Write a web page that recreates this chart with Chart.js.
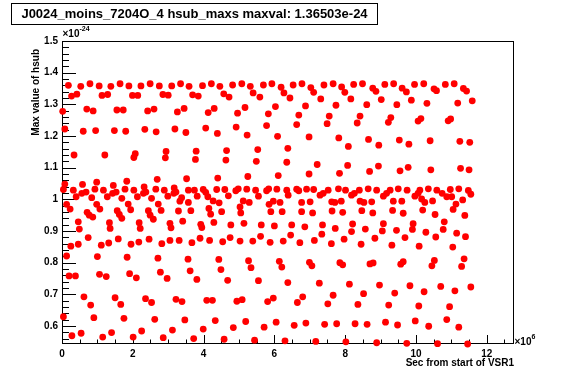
<!DOCTYPE html>
<html>
<head>
<meta charset="utf-8">
<script src="https://cdn.jsdelivr.net/npm/chart.js@4.4.0/dist/chart.umd.min.js"></script>
<style>
  html, body { margin: 0; padding: 0; background: #fff; }
</style>
</head>
<body>
<canvas id="c" width="563" height="387"></canvas>
<script>
// time in units of 1e6 s, hsub max in units of 1e-24

// 0 - 3.6 (x1e6), upper half
const timeA = [0.18,0.27,0.42,0.53,0.79,1.05,1.13,1.29,1.38,1.64,1.89,1.99,2.14,2.23,2.49,2.75,2.85,3.00,3.10,3.35,3.59,
  0.02,0.70,0.88,1.55,1.73,2.42,2.60,3.26,3.45,
  0.08,0.60,0.95,1.48,1.80,2.34,2.66,3.19,3.50,
  0.34,1.21,2.07,2.03,2.94,2.92,
  0.08,0.04,0.32,0.40,0.58,0.56,0.68,0.84,0.93,0.98,1.17,1.28,1.45,1.43,1.53,1.69,1.78,1.83,2.03,2.13,2.32,2.30,2.37,2.53,2.65,2.69,2.89,2.99,3.17,3.16,3.22,3.38,3.52,3.57];
const hsubA = [1.360,1.326,1.332,1.357,1.365,1.358,1.328,1.331,1.357,1.365,1.358,1.328,1.328,1.358,1.365,1.358,1.331,1.329,1.358,1.365,1.357,
  1.278,1.285,1.279,1.282,1.282,1.279,1.285,1.276,1.287,
  1.222,1.215,1.217,1.217,1.215,1.221,1.213,1.222,1.211,
  1.140,1.140,1.144,1.132,1.151,1.131,
  1.048,1.031,1.029,1.008,1.047,1.019,1.023,1.005,1.032,1.054,1.029,1.008,1.044,1.019,1.023,1.003,1.032,1.057,1.029,1.008,1.039,1.019,1.023,1.003,1.032,1.063,1.029,1.010,1.036,1.019,1.023,1.005,1.065,1.029];

// 0 - 3.3, lower half
const timeB = [0.13,0.23,0.98,1.07,1.87,1.94,2.72,2.80,3.29,
  0.71,0.77,0.87,1.56,1.62,1.69,2.44,2.49,2.58,
  0.46,0.49,1.34,1.36,2.18,2.21,3.05,3.08,
  0.74,1.59,2.46,3.31,
  0.25,0.46,1.11,1.32,1.95,2.17,2.82,3.05,
  0.13,1.00,1.84,2.71,
  0.20,0.38,1.06,1.25,1.91,2.10,2.78,2.97,
  0.62,0.81,1.50,1.66,2.36,2.53,3.22,
  0.04,0.90,1.75,2.62,
  0.28,0.54,1.15,1.40,2.01,2.25,2.86,3.12];
const hsubB = [0.984,0.969,0.984,0.969,0.985,0.967,0.985,0.965,0.963,
  0.959,0.950,0.944,0.964,0.952,0.940,0.964,0.950,0.937,
  0.929,0.906,0.926,0.908,0.926,0.908,0.924,0.910,
  0.879,0.875,0.874,0.870,
  0.852,0.858,0.855,0.862,0.858,0.865,0.860,0.870,
  0.821,0.819,0.817,0.814,
  0.758,0.758,0.763,0.756,0.765,0.752,0.770,0.750,
  0.692,0.666,0.689,0.668,0.686,0.674,0.684,
  0.629,0.626,0.624,0.621,
  0.569,0.577,0.565,0.579,0.565,0.584,0.563,0.587];

// 3.6 - 7.1, upper half
const timeC = [3.69,3.85,3.97,4.22,4.46,4.57,4.72,4.82,5.08,5.32,5.40,5.59,5.69,5.93,6.19,6.27,6.44,6.53,6.78,7.03,7.11,
  4.13,4.30,4.96,5.17,5.83,6.03,6.69,6.88,
  4.06,4.39,4.92,5.23,5.78,6.09,6.63,6.98,
  3.79,3.77,4.65,4.63,5.53,5.49,6.38,6.35,
  4.40,5.25,6.11,6.98,
  3.74,3.82,3.99,4.06,4.12,4.37,4.60,4.70,4.91,4.98,5.22,5.47,5.55,5.78,5.84,6.07,6.35,6.39,6.63,6.69,6.91];
const hsubC = [1.330,1.326,1.359,1.365,1.357,1.333,1.323,1.361,1.365,1.357,1.336,1.323,1.361,1.365,1.354,1.336,1.320,1.361,1.365,1.353,1.338,
  1.274,1.287,1.272,1.290,1.270,1.293,1.266,1.295,
  1.225,1.208,1.228,1.203,1.233,1.199,1.236,1.197,
  1.152,1.126,1.154,1.124,1.157,1.120,1.161,1.117,
  1.067,1.072,1.075,1.080,
  1.029,1.010,1.031,1.022,1.008,1.031,1.031,1.011,1.027,1.033,1.032,1.029,1.010,1.027,1.033,1.032,1.029,1.013,1.032,1.027,1.032];

// 3.3 - 6.7, lower half
const timeD = [3.33,3.57,4.27,4.44,5.12,5.29,5.97,6.16,5.85,
  3.64,4.15,4.20,4.51,5.03,5.05,5.90,6.22,
  3.41,3.92,3.95,4.29,4.77,5.14,5.63,6.00,6.49,
  3.67,3.90,4.17,4.54,4.75,5.03,5.39,5.61,5.88,6.25,6.46,6.72,
  3.56,3.62,3.81,4.43,4.49,4.68,5.27,5.34,5.55,6.14,6.21,6.38,
  3.39,4.09,4.25,4.94,5.09,5.81,5.97,6.65,
  3.47,4.33,5.19,6.05,
  3.99,4.84,5.71,6.56,
  3.72,4.58,5.44,6.30];
const hsubD = [0.994,0.990,0.995,0.989,0.995,0.990,0.994,0.990,0.984,
  0.964,0.971,0.953,0.961,0.976,0.957,0.961,0.961,
  0.931,0.921,0.911,0.927,0.919,0.924,0.919,0.916,0.919,
  0.863,0.877,0.870,0.866,0.879,0.868,0.868,0.883,0.864,0.868,0.887,0.863,
  0.811,0.774,0.747,0.810,0.778,0.744,0.806,0.784,0.743,0.804,0.786,0.737,
  0.677,0.681,0.681,0.678,0.683,0.677,0.688,0.674,
  0.619,0.617,0.614,0.612,
  0.590,0.595,0.596,0.602,
  0.560,0.558,0.555,0.553];

// 7.1 - 10.6, upper half
const timeE = [7.31,7.40,7.66,7.90,7.99,8.16,8.24,8.49,8.78,8.87,9.02,9.12,9.37,9.61,9.73,9.87,9.96,10.22,10.51,10.58,
  7.74,8.61,9.46,10.31,
  7.55,7.49,8.42,8.34,9.29,9.22,10.14,10.06,
  7.82,8.09,8.66,8.95,9.53,9.80,10.40,
  7.21,7.84,8.07,8.69,8.94,9.55,9.78,10.42,
  7.11,7.29,7.38,7.52,7.81,8.01,8.18,8.26,8.40,8.65,8.89,9.08,9.17,9.27,9.50,9.75,9.97,10.06,10.11,10.35,10.59];
const hsubE = [1.317,1.361,1.365,1.355,1.338,1.317,1.363,1.365,1.351,1.341,1.315,1.363,1.365,1.351,1.339,1.313,1.363,1.365,1.349,1.343,
  1.297,1.299,1.299,1.303,
  1.263,1.239,1.263,1.241,1.258,1.243,1.255,1.247,
  1.194,1.167,1.189,1.171,1.187,1.174,1.185,
  1.110,1.082,1.107,1.088,1.105,1.090,1.101,1.093,
  1.031,1.013,1.019,1.029,1.033,1.029,1.013,1.019,1.029,1.033,1.029,1.010,1.019,1.029,1.033,1.029,1.010,1.019,1.029,1.033,1.029];

// 10.7 - 11.6, upper half
const timeF = [10.83,11.08,11.34,11.43,11.18,11.59,10.91,10.98,11.24,11.52,11.26,11.50,10.74,10.87,10.97,11.01,11.21,11.32,11.48,11.55];
const hsubF = [1.363,1.365,1.350,1.342,1.304,1.311,1.248,1.254,1.183,1.180,1.098,1.093,1.019,1.008,1.031,1.008,1.033,0.998,1.028,1.016];

// 6.7 - 10.1, lower half
const timeG = [7.62,7.71,7.89,8.42,8.53,8.75,9.36,9.60,7.01,6.77,
  6.77,7.08,7.63,7.93,8.47,8.78,9.34,9.64,
  6.86,7.36,7.34,7.72,8.21,8.18,8.57,9.08,9.05,9.45,9.92,9.90,
  7.13,7.61,7.97,8.45,8.84,9.32,9.69,10.09,
  6.99,7.06,7.85,7.93,8.70,8.79,9.57,9.64,
  7.27,8.12,8.97,9.83,
  6.80,7.66,8.52,9.40,
  7.51,8.36,9.23,10.08,
  6.89,7.42,7.76,8.28,8.62,9.14,9.48,9.98,
  7.17,8.02,8.89,9.74];
const hsubG = [0.992,0.990,0.994,0.994,0.990,0.992,0.994,0.994,0.992,0.990,
  0.961,0.957,0.963,0.959,0.964,0.957,0.965,0.956,
  0.913,0.919,0.890,0.908,0.922,0.898,0.906,0.923,0.900,0.902,0.923,0.905,
  0.870,0.860,0.874,0.858,0.877,0.855,0.879,0.852,
  0.801,0.790,0.800,0.793,0.796,0.799,0.795,0.803,
  0.735,0.732,0.729,0.727,
  0.692,0.697,0.702,0.704,
  0.670,0.668,0.666,0.663,
  0.609,0.605,0.607,0.607,0.605,0.612,0.603,0.616,
  0.551,0.550,0.547,0.545];

// 10.1 - 11.6, lower half
const timeH = [10.16,10.25,10.47,11.13,10.19,10.54,11.05,11.38,10.80,10.77,10.28,10.56,11.15,11.40,11.04,10.52,10.45,11.36,11.29,10.70,10.23,11.10,11.55,10.95,10.87,10.36,11.21,10.61,11.46];
const hsubH = [1.001,0.990,0.995,0.985,0.966,0.952,0.968,0.949,0.929,0.905,0.896,0.881,0.893,0.882,0.849,0.807,0.790,0.812,0.788,0.725,0.708,0.711,0.723,0.661,0.620,0.599,0.596,0.544,0.543];

const xTicks = [0, 2, 4, 6, 8, 10, 12];
const xTickLabels = ['0', '2', '4', '6', '8', '10', '12'];
const yTicks = [0.6, 0.7, 0.8, 0.9, 1.0, 1.1, 1.2, 1.3, 1.4, 1.5];
const yTickLabels = ['0.6', '0.7', '0.8', '0.9', '1', '1.1', '1.2', '1.3', '1.4', '1.5'];

const titleText = 'J0024_moins_7204O_4 hsub_maxs maxval: 1.36503e-24';
const xTitle = 'Sec from start of VSR1';
const yTitle = 'Max value of hsub';

const FONT = '"Liberation Sans", Arial, Helvetica, sans-serif';
const X_MIN = 0, X_MAX = 12.77;
const Y_MIN = 0.543, Y_MAX = 1.5;

const groups = [[timeA, hsubA], [timeB, hsubB], [timeC, hsubC], [timeD, hsubD],
                [timeE, hsubE], [timeF, hsubF], [timeG, hsubG], [timeH, hsubH]];
const points = groups.flatMap(([t, h]) => t.map((v, i) => ({ x: v, y: h[i] })));

// frame + inward ticks, ROOT style
const rootFrame = {
  id: 'rootFrame',
  beforeDatasetsDraw(chart) {
    const { ctx, chartArea: a, scales: { x, y } } = chart;
    ctx.save();
    ctx.strokeStyle = '#000';
    ctx.lineWidth = 1;
    ctx.strokeRect(Math.round(a.left) + 0.5, Math.round(a.top) + 0.5,
                   Math.round(a.right - a.left) - 1, Math.round(a.bottom - a.top) - 1);
    ctx.beginPath();
    // y ticks: major every 0.1, minor every 0.02
    for (let k = 28; k <= 75; k++) {
      const v = k * 0.02;
      if (v < Y_MIN || v > Y_MAX + 1e-9) continue;
      const py = Math.round(y.getPixelForValue(v)) + 0.5;
      const len = (k % 5 === 0) ? 14 : 7;
      ctx.moveTo(a.left, py);
      ctx.lineTo(a.left + len, py);
    }
    // x ticks: major every 2, minor every 0.5
    for (let k = 0; k * 0.5 <= X_MAX; k++) {
      const v = k * 0.5;
      const px = Math.round(x.getPixelForValue(v)) + 0.5;
      const len = (k % 4 === 0) ? 9 : 4.5;
      ctx.moveTo(px, a.bottom);
      ctx.lineTo(px, a.bottom - len);
    }
    ctx.stroke();
    ctx.restore();
  },
  afterDraw(chart) {
    const { ctx, chartArea: a } = chart;
    ctx.save();
    // title box
    ctx.fillStyle = '#fff';
    ctx.fillRect(11.5, 3.5, 366, 21);
    ctx.strokeStyle = '#000';
    ctx.lineWidth = 1;
    ctx.strokeRect(11.5, 3.5, 366, 21);
    ctx.fillStyle = '#000';
    ctx.font = 'bold 13px ' + FONT;
    ctx.textAlign = 'center';
    ctx.textBaseline = 'middle';
    ctx.fillText(titleText, 194.5, 14.5);

    // axis titles
    ctx.font = 'bold 10px ' + FONT;
    ctx.textAlign = 'right';
    ctx.fillText(xTitle, a.right, 363.5);
    ctx.save();
    ctx.translate(36.5, 49);
    ctx.rotate(-Math.PI / 2);
    ctx.fillText(yTitle, 0, 0);
    ctx.restore();

    // exponent labels
    ctx.textAlign = 'left';
    ctx.font = 'bold 10px ' + FONT;
    ctx.fillText('\u00d710', a.left + 0.5, 34.5);
    let w = ctx.measureText('\u00d710').width;
    ctx.font = 'bold 7px ' + FONT;
    ctx.fillText('-24', a.left + 0.5 + w, 29.5);

    ctx.font = 'bold 10px ' + FONT;
    ctx.fillText('\u00d710', a.right + 0.5, a.bottom - 2);
    w = ctx.measureText('\u00d710').width;
    ctx.font = 'bold 7px ' + FONT;
    ctx.fillText('6', a.right + 0.5 + w, a.bottom - 7);
    ctx.restore();
  }
};

new Chart(document.getElementById('c').getContext('2d'), {
  type: 'scatter',
  data: {
    datasets: [{
      data: points,
      backgroundColor: '#ff0000',
      borderWidth: 0,
      pointRadius: 3.4,
      pointHoverRadius: 3.4,
      clip: false
    }]
  },
  options: {
    responsive: false,
    animation: false,
    events: [],
    layout: { padding: { top: 41, right: 49, bottom: 0, left: 0 } },
    plugins: { legend: { display: false }, title: { display: false }, tooltip: { enabled: false } },
    scales: {
      x: {
        type: 'linear', min: X_MIN, max: X_MAX,
        grid: { display: false, drawTicks: false },
        border: { display: false },
        afterBuildTicks: s => { s.ticks = xTicks.map(v => ({ value: v })); },
        afterFit: s => { s.height = 43; },
        ticks: {
          padding: 4, color: '#000', maxRotation: 0, autoSkip: false,
          font: { family: FONT, size: 10, weight: 'bold' },
          callback: (v, i) => xTickLabels[i]
        }
      },
      y: {
        type: 'linear', min: Y_MIN, max: Y_MAX,
        grid: { display: false, drawTicks: false },
        border: { display: false },
        afterBuildTicks: s => { s.ticks = yTicks.map(v => ({ value: v })); },
        afterFit: s => { s.width = 62; },
        ticks: {
          padding: 4, color: '#000', autoSkip: false,
          font: { family: FONT, size: 10, weight: 'bold' },
          callback: (v, i) => yTickLabels[i]
        }
      }
    }
  },
  plugins: [rootFrame]
});
</script>
</body>
</html>
